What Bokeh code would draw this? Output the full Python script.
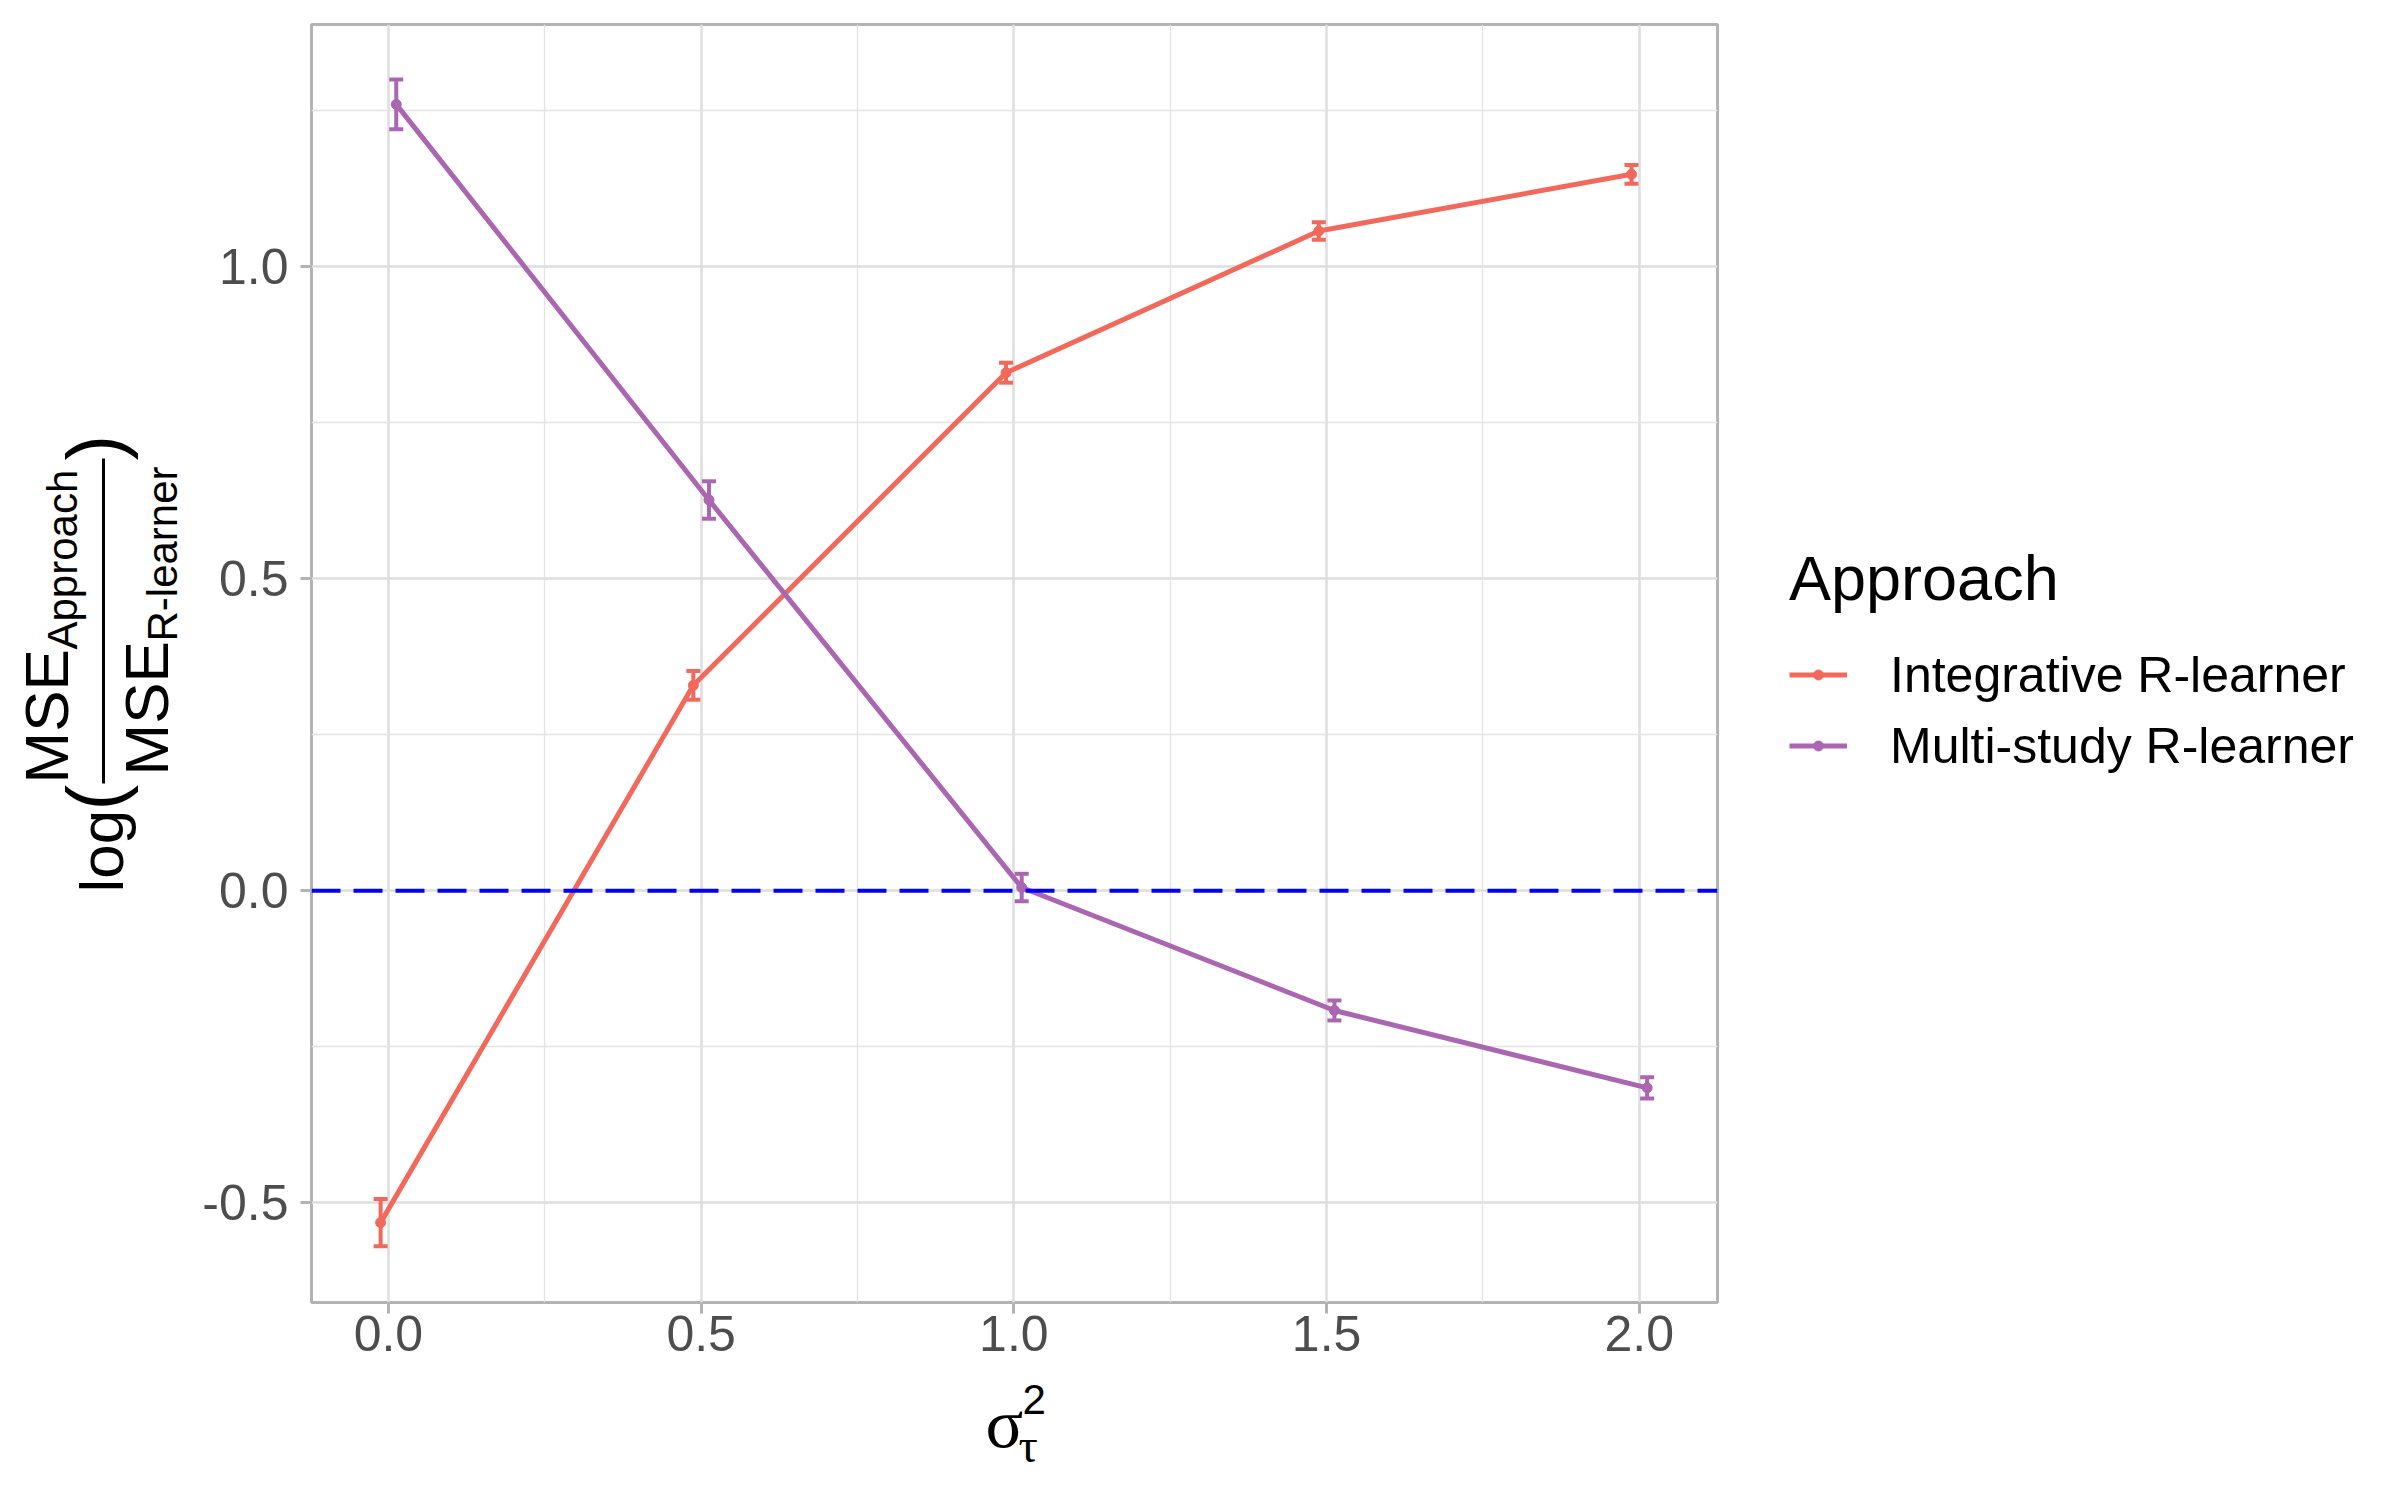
import math
from bokeh.plotting import figure
from bokeh.layouts import row, column
from bokeh.models import (ColumnDataSource, Whisker, TeeHead, Span, Legend,
                          LegendItem, FixedTicker, Range1d)
from bokeh.core.properties import value
from bokeh.embed import file_html
from bokeh.resources import INLINE

# ---------------- data ----------------
sigma_levels = [0.0, 0.5, 1.0, 1.5, 2.0]
integrative_mean = [-0.532, 0.329, 0.830, 1.057, 1.148]
integrative_err = [0.038, 0.023, 0.016, 0.014, 0.015]
multistudy_mean = [1.260, 0.626, 0.005, -0.192, -0.316]
multistudy_err = [0.040, 0.030, 0.022, 0.016, 0.017]
series_names = ["Integrative R-learner", "Multi-study R-learner"]
legend_title = "Approach"
x_ticks = [0.0, 0.5, 1.0, 1.5, 2.0]
x_minor = [0.25, 0.75, 1.25, 1.75]
y_ticks = [-0.5, 0.0, 0.5, 1.0]
y_minor = [-0.25, 0.25, 0.75, 1.25]

# ---------------- style / layout ----------------
RED = "#F2695C"
PURPLE = "#AB66B1"
DODGE = 0.0125
SANS = "Liberation Sans"
SERIF = "Liberation Serif"
K = 0.345                           # baseline correction (fraction of font size)
YW = 190                            # width of left (y-title) strip
FL, FT, FW, FH = 121, 24, 1406, 1278
FB, FR = 72, 8
MAIN_W = FL + FW + FR
TOP_H = FT + FH + FB
TOTAL_W = 2392
RW = TOTAL_W - YW - MAIN_W
XH = 1492 - TOP_H
X0, X1 = -0.123, 2.125
Y0, Y1 = -0.660, 1.388


def strip(w, h, x0, ytop, ybot):
    """helper figure whose data units are page pixels (y negated)"""
    f = figure(width=w, height=h, output_backend="svg", toolbar_location=None,
               x_range=Range1d(x0, x0 + w), y_range=Range1d(-ybot, -ytop),
               x_axis_type=None, y_axis_type=None, min_border=0)
    f.outline_line_color = None
    f.background_fill_color = "white"
    f.border_fill_color = "white"
    return f


# ---------------- main panel ----------------
p = figure(frame_width=FW, frame_height=FH, output_backend="svg", toolbar_location=None,
           x_range=Range1d(X0, X1), y_range=Range1d(Y0, Y1),
           min_border_left=FL, min_border_top=FT, min_border_bottom=FB,
           min_border_right=FR)
p.background_fill_color = "white"
p.border_fill_color = "white"
p.outline_line_color = "#B3B3B3"
p.outline_line_width = 3

for ax, ticks, minor in ((p.xaxis, x_ticks, x_minor), (p.yaxis, y_ticks, y_minor)):
    ax.ticker = FixedTicker(ticks=ticks, minor_ticks=minor)
    ax.axis_line_color = None
    ax.major_tick_line_color = "#B3B3B3"
    ax.major_tick_line_width = 3
    ax.major_tick_out = 11
    ax.major_tick_in = 0
    ax.minor_tick_line_color = None
    ax.major_label_text_font = SANS
    ax.major_label_text_font_size = "50px"
    ax.major_label_text_color = "#4D4D4D"
    ax.major_label_overrides = {t: f"{t:.1f}" for t in ticks}
p.xaxis.major_label_standoff = 2
p.yaxis.major_label_standoff = 12

for g in (p.xgrid, p.ygrid):
    g.grid_line_color = "#DEDEDE"
    g.grid_line_width = 2.5
    g.minor_grid_line_color = "#E4E4E4"
    g.minor_grid_line_width = 1.3

p.add_layout(Span(location=0, dimension="width", line_color="#0000FF",
                  line_width=4, line_dash="29 13"))

styles = []
for name, mean, err, color, off in ((series_names[0], integrative_mean, integrative_err, RED, -DODGE),
                                    (series_names[1], multistudy_mean, multistudy_err, PURPLE, DODGE)):
    xs = [v + off for v in sigma_levels]
    src = ColumnDataSource(dict(x=xs, y=mean,
                                lo=[m - e for m, e in zip(mean, err)],
                                hi=[m + e for m, e in zip(mean, err)]))
    p.add_layout(Whisker(source=src, base="x", lower="lo", upper="hi", dimension="height",
                         line_color=color, line_width=4,
                         upper_head=TeeHead(size=14, line_color=color, line_width=4),
                         lower_head=TeeHead(size=14, line_color=color, line_width=4)))
    p.line("x", "y", source=src, line_color=color, line_width=5)
    p.scatter("x", "y", source=src, size=10, fill_color=color, line_color=color)
    styles.append((name, color))

# ---------------- left strip: y title (frame aligned with main frame) ----------------
yf = strip(YW, TOP_H, 0, FT, FT + FH)
ROT = math.pi / 2


def ytxt(text, bx, sy, size):
    # rotated text: "up" of the text points to screen-left
    yf.text(x=[bx - K * size], y=[-sy], text=[text], angle=ROT, text_font=value(SANS),
            text_font_size=value(f"{size}px"), text_color="black",
            text_align="left", text_baseline="alphabetic")


ytxt("log", 122, 892, 62)
ytxt("(", 121, 810, 77)
ytxt("MSE", 67, 783, 62)
ytxt("Approach", 76, 649, 42)
ytxt("MSE", 167, 775, 62)
ytxt("R-learner", 176, 641, 42)
ytxt(")", 121, 460, 77)
yf.segment(x0=[103], y0=[-783], x1=[103], y1=[-458], line_color="black", line_width=3)

# ---------------- right strip: legend ----------------
rx0 = YW + MAIN_W
rf = strip(RW, TOP_H, rx0, FT, FT + FH)
items = []
for name, color in styles:
    # legend proxies, placed outside the visible range of the strip
    lr = rf.line(x=[0, 1], y=[0, 0], line_color=color, line_width=5)
    sr = rf.scatter(x=[0], y=[0], size=10, fill_color=color, line_color=color)
    items.append(LegendItem(label=name, renderers=[lr, sr]))
legend = Legend(items=items, title=legend_title, location=(64, 521),
                border_line_color=None, background_fill_alpha=0, padding=0, margin=0,
                glyph_width=58, glyph_height=25, label_height=71, label_standoff=43,
                spacing=0, title_standoff=25,
                label_text_font=SANS, label_text_font_size="50px", label_text_color="black",
                title_text_font=SANS, title_text_font_size="63px", title_text_font_style="normal",
                title_text_color="black")
rf.add_layout(legend)

# ---------------- bottom strip: x title ----------------
xf = strip(TOTAL_W, XH, 0, TOP_H, TOP_H + XH)


def xtxt(text, lx, by, size, font):
    xf.text(x=[lx], y=[-(by - K * size)], text=[text], text_font=value(font),
            text_font_size=value(f"{size}px"), text_color="black",
            text_align="left", text_baseline="alphabetic")


xtxt("σ", 985, 1447, 70, SERIF)
xtxt("τ", 1018, 1462, 48, SERIF)
xtxt("2", 1022, 1413, 42, SANS)

layout = column(row(yf, p, rf), xf)
open("out.html", "w").write(file_html(layout, INLINE))
